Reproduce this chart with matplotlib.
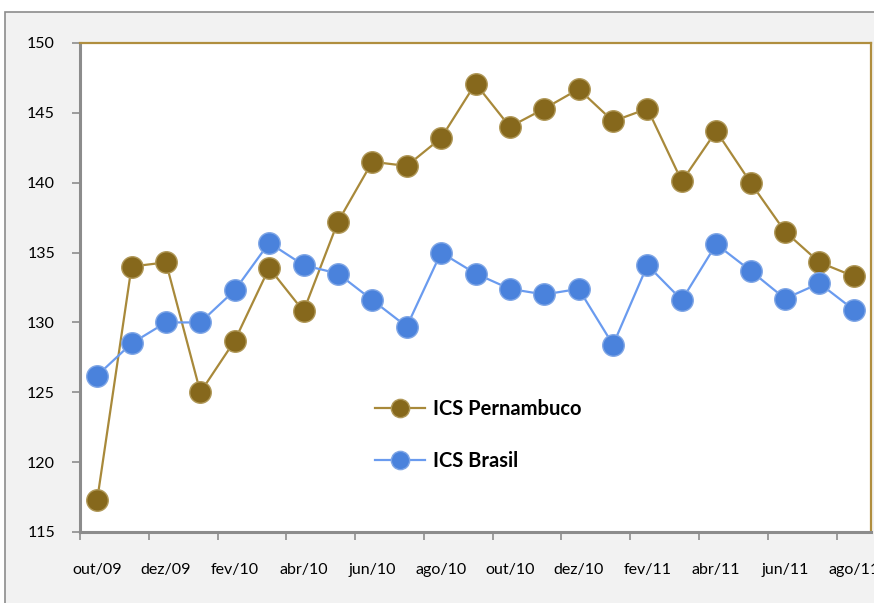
import matplotlib
matplotlib.use("Agg")
import matplotlib.pyplot as plt
from matplotlib.patches import Rectangle

# ---- data ----
months = ["out/09", "nov/09", "dez/09", "jan/10", "fev/10", "mar/10", "abr/10",
          "mai/10", "jun/10", "jul/10", "ago/10", "set/10", "out/10", "nov/10",
          "dez/10", "jan/11", "fev/11", "mar/11", "abr/11", "mai/11", "jun/11",
          "jul/11", "ago/11"]
ics_pe = [117.3, 134.0, 134.3, 125.0, 128.7, 133.9, 130.8, 137.2, 141.5, 141.2,
          143.2, 147.1, 144.0, 145.3, 146.7, 144.4, 145.3, 140.1, 143.7, 140.0,
          136.5, 134.3, 133.3]
ics_br = [126.2, 128.5, 130.0, 130.0, 132.3, 135.7, 134.1, 133.5, 131.6, 129.7,
          135.0, 133.5, 132.4, 132.0, 132.4, 128.4, 134.1, 131.6, 135.6, 133.7,
          131.7, 132.8, 130.9]
yticks = [115, 120, 125, 130, 135, 140, 145, 150]

plt.rcParams["font.family"] = ["Lato", "DejaVu Sans"]

fig = plt.figure(figsize=(8.74, 6.03), dpi=100)
fig.patch.set_facecolor("white")
# gray chart-area panel with its frame (behind the axes)
panel = Rectangle((5 / 874, -0.05), 1.2, 1 + 0.05 - 12 / 603,
                  transform=fig.transFigure, facecolor="#F2F2F2",
                  edgecolor="#8C8C8C", lw=1.2, zorder=-1)
fig.add_artist(panel)

ax = fig.add_axes([80 / 874, 1 - 532 / 603, 791 / 874, 489 / 603])
ax.set_zorder(1)
ax.set_facecolor("white")

x = list(range(len(months)))
ax.plot(x, ics_pe, color="#A8893A", lw=1.6, marker="o", ms=15.5,
        mfc="#86681C", mec="#B09858", mew=1.0, label="ICS Pernambuco", zorder=3)
ax.plot(x, ics_br, color="#6A9BEF", lw=1.6, marker="o", ms=15.5,
        mfc="#4A82DC", mec="#7FA6E6", mew=1.0, label="ICS Brasil", zorder=3)

ax.set_xlim(-0.5, len(months) - 0.5)
ax.set_ylim(115, 150)

# category axis: ticks between every second month, labels on the months
ax.set_xticks([i - 0.5 for i in range(0, len(months), 2)])
ax.set_xticklabels([])
ax.set_xticks(x[::2], minor=True)
ax.set_xticklabels(months[::2], minor=True)
ax.tick_params(axis="x", which="major", length=6, width=1.2, color="#8C8C8C",
               direction="out")
ax.tick_params(axis="x", which="minor", length=0, pad=22, labelsize=11.5)

ax.set_yticks(yticks)
ax.set_yticklabels([str(v) for v in yticks])
ax.tick_params(axis="y", length=6, width=1.2, color="#8C8C8C", pad=12,
               labelsize=11.5)

for s in ["left", "bottom"]:
    ax.spines[s].set_color("#8C8C8C")
    ax.spines[s].set_linewidth(2.2)
for s in ["top", "right"]:
    ax.spines[s].set_color("#B08E3E")
    ax.spines[s].set_linewidth(1.6)

leg = ax.legend(loc="upper left", bbox_to_anchor=(0.373, 0.271), frameon=False,
                borderpad=0, borderaxespad=0, handlelength=2.5,
                labelspacing=1.55, handletextpad=0.4, markerscale=0.85,
                prop={"weight": "bold", "size": 14.5})

fig.savefig("out.png", dpi=100, facecolor=fig.get_facecolor())
